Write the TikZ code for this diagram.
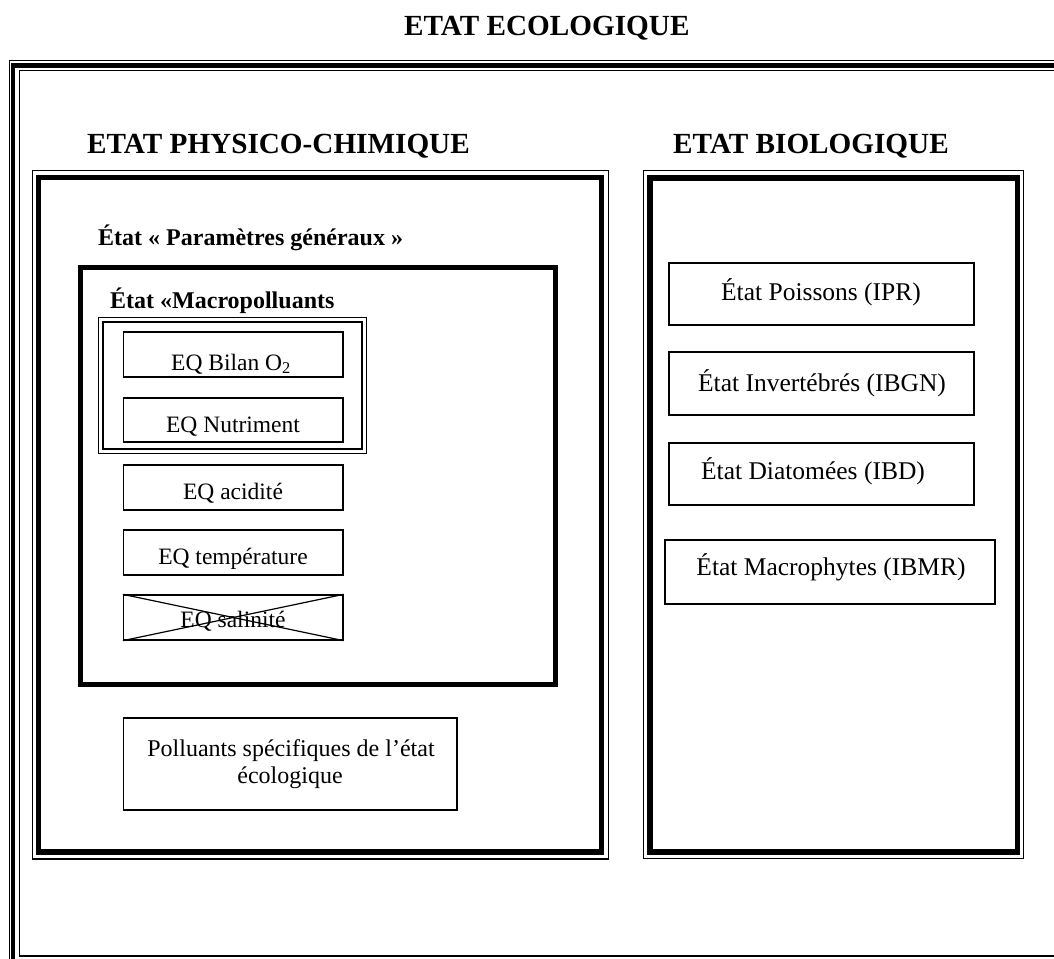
\documentclass[tikz,border=0pt]{standalone}
\usepackage{fontspec}
\setmainfont{Liberation Serif}
\begin{document}
\begin{tikzpicture}[x=1pt,y=-1pt,
  box/.style={draw, line width=1.3pt, inner sep=0pt},
  lbl/.style={font=\fontsize{23.5}{28}\selectfont, anchor=base, inner sep=0pt},
  biolbl/.style={font=\fontsize{25.5}{30}\selectfont, anchor=base, inner sep=0pt},
  ttl/.style={font=\fontsize{29.2}{35}\selectfont\bfseries, anchor=base west, inner sep=0pt},
  subttl/.style={font=\fontsize{24}{29}\selectfont\bfseries, anchor=base west, inner sep=0pt},
  thinframe/.style={draw, line width=1.2pt},
  thickframe/.style={draw, line width=5.5pt}]
\useasboundingbox (0,0) rectangle (1054,958);
\clip (0,0) rectangle (1054,958);
% outer frame (cut by the page at right and bottom)
\draw[line width=0.9pt] (9,60) rectangle (1100,1000);
\draw[line width=4.5pt] (13,65.5) rectangle (1100,1000);
\draw[line width=1.5pt] (19.5,70.5) rectangle (1100,956);
% titles
\node[ttl] (tEco) at (404,36) {ETAT ECOLOGIQUE};
\node[ttl] (tPhy) at (87,153) {ETAT PHYSICO-CHIMIQUE};
\node[ttl] (tBio) at (673,153) {ETAT BIOLOGIQUE};
% physico-chimique frame
\draw[thinframe] (32.5,170.5) rectangle (608.5,859);
\draw[thickframe] (38.5,177.5) rectangle (601.5,852);
% biologique frame
\draw[thinframe] (643.5,170.5) rectangle (1023.5,858.5);
\draw[thickframe] (650,178) rectangle (1017.5,852);
% parametres generaux
\node[subttl] (tPar) at (98,245) {État « Paramètres généraux »};
\draw[line width=5pt] (80.5,267.5) rectangle (555,684);
\node[subttl] (tMac) at (110,308) {État «Macropolluants};
\draw[line width=1.2pt] (98.5,317.5) rectangle (366.5,453.5);
\draw[line width=2pt] (103,322) rectangle (362,448.5);
% EQ boxes
\node[box, minimum width=219.5pt, minimum height=45pt] (bilan) at (233.25,354.5) {};
\node[lbl] (bilanT) at (231,370) {EQ Bilan O\textsubscript{2}};
\node[box, minimum width=219.5pt, minimum height=44pt] (nutr) at (233.25,420) {};
\node[lbl] (nutrT) at (233,432) {EQ Nutriment};
\node[box, minimum width=219.5pt, minimum height=45pt] (acid) at (233.25,487.5) {};
\node[lbl] (acidT) at (233,499) {EQ acidité};
\node[box, minimum width=219.5pt, minimum height=45pt] (temp) at (233.25,552.5) {};
\node[lbl] (tempT) at (233,564) {EQ température};
\node[box, minimum width=219.5pt, minimum height=45pt] (sal) at (233.25,617.5) {};
\node[lbl] (salT) at (233,627) {EQ salinité};
\draw[line width=1.2pt] (sal.north west) -- (sal.south east);
\draw[line width=1.2pt] (sal.south west) -- (sal.north east);
% polluants specifiques
\node[box, minimum width=333.5pt, minimum height=92pt] (poll) at (290.25,764) {};
\node[lbl, font=\fontsize{24}{29}\selectfont] (pollT1) at (291,756) {Polluants spécifiques de l’état};
\node[lbl, font=\fontsize{24}{29}\selectfont] (pollT2) at (290,783) {écologique};
% biological boxes
\node[box, minimum width=305pt, minimum height=62pt] (poi) at (821.5,294) {};
\node[biolbl] (poiT) at (821,300) {État Poissons (IPR)};
\node[box, minimum width=305pt, minimum height=63pt] (inv) at (821.5,383.5) {};
\node[biolbl] (invT) at (822,391) {État Invertébrés (IBGN)};
\node[box, minimum width=305pt, minimum height=62pt] (dia) at (821.5,474) {};
\node[biolbl] (diaT) at (813,479) {État Diatomées (IBD)};
\node[box, minimum width=330pt, minimum height=64pt] (mac) at (830,572) {};
\node[biolbl] (macT) at (831,575) {État Macrophytes (IBMR)};
\end{tikzpicture}
\end{document}
